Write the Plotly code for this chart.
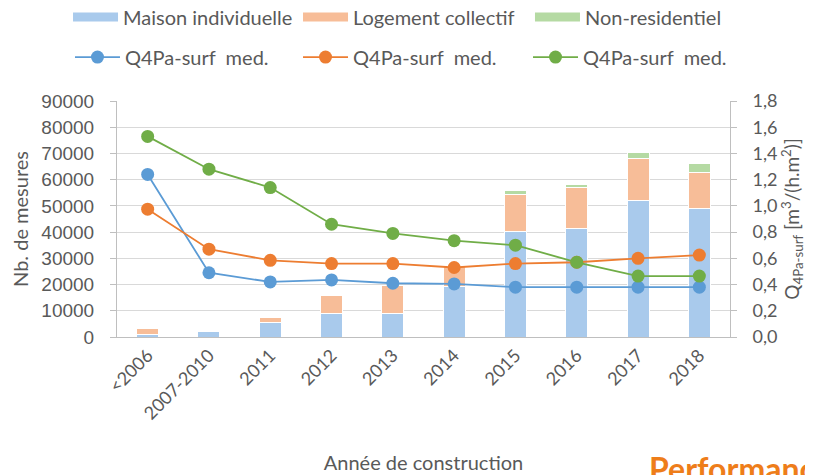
import plotly.graph_objects as go

categories = ["<2006", "2007-2010", "2011", "2012", "2013", "2014", "2015", "2016", "2017", "2018"]

maison = [800, 2200, 5600, 9000, 9000, 19200, 40200, 41400, 51900, 49000]
collectif = [2300, 200, 1800, 6700, 10800, 7800, 14000, 15600, 16000, 13700]
nonres = [0, 0, 0, 0, 0, 0, 1500, 1200, 2600, 3300]

q_maison = [1.24, 0.49, 0.42, 0.435, 0.41, 0.405, 0.38, 0.38, 0.38, 0.38]
q_collectif = [0.975, 0.67, 0.585, 0.56, 0.56, 0.53, 0.56, 0.57, 0.60, 0.625]
q_nonres = [1.53, 1.28, 1.14, 0.86, 0.79, 0.735, 0.70, 0.57, 0.465, 0.465]

bar_names = ["Maison individuelle", "Logement collectif", "Non-residentiel"]
line_name = "Q4Pa-surf\u00a0 med."

bar_colors = ["#A9CAEC", "#F7BD98", "#B5DAA3"]
line_colors = ["#5B9BD5", "#ED7D31", "#70AD47"]

FONT = "Lato, Liberation Sans, sans-serif"
TICKFONT = "Liberation Sans, Arial, sans-serif"
GREY = "#595959"

bar_legends = ["legend", "legend2", "legend3"]
line_legends = ["legend4", "legend5", "legend6"]
bar_legend_x = [-0.0799, 0.2953, 0.6737]
line_legend_x = [-0.0767, 0.2953, 0.6705]

fig = go.Figure()

for vals, name, col in zip([maison, collectif, nonres], bar_names, bar_colors):
    fig.add_trace(go.Bar(
        x=categories, y=vals, name=name, marker=dict(color=col, line=dict(color="white", width=1)),
        width=0.36, showlegend=False, yaxis="y", hoverinfo="x+y"))

for name, col, lg in zip(bar_names, bar_colors, bar_legends):
    # legend entry (wide flat swatch like the original)
    fig.add_trace(go.Scatter(
        x=[None], y=[None], mode="lines", name=name,
        line=dict(color=col, width=9), legend=lg, showlegend=True))

for vals, col, lg in zip([q_maison, q_collectif, q_nonres], line_colors, line_legends):
    fig.add_trace(go.Scatter(
        x=categories, y=vals, name=line_name, mode="lines+markers",
        line=dict(color=col, width=1.8), marker=dict(color=col, size=13),
        yaxis="y2", legend=lg))

legend_style = dict(orientation="h", xanchor="left", yanchor="middle",
                    font=dict(size=20, color=GREY), itemwidth=45,
                    bgcolor="rgba(0,0,0,0)")
legends = {}
for lg, x in zip(bar_legends, bar_legend_x):
    legends[lg] = dict(legend_style, x=x, y=1.356)
for lg, x in zip(line_legends, line_legend_x):
    legends[lg] = dict(legend_style, x=x, y=1.186)

fig.update_layout(
    width=805, height=467,
    margin=dict(l=109, r=83, t=93, b=138, autoexpand=False),
    paper_bgcolor="white", plot_bgcolor="white",
    barmode="stack",
    separators=", ",
    font=dict(family=FONT, color=GREY, size=18),
    xaxis=dict(
        type="category", range=[-0.5, 9.5], showline=True, linecolor="#BFBFBF", linewidth=1,
        ticks="", tickangle=-45, tickfont=dict(size=18, color=GREY),
        title=dict(text="Année de construction", font=dict(size=20, color=GREY), standoff=33),
        showgrid=False, automargin=False),
    yaxis=dict(
        range=[0, 90000], dtick=10000, tickformat="d", showgrid=True, gridcolor="#D9D9D9", gridwidth=1,
        showline=True, linecolor="#BFBFBF", ticks="outside", ticklen=6, tickcolor="#BFBFBF",
        zeroline=False, tickfont=dict(size=19, color=GREY, family=TICKFONT), ticklabelstandoff=12,
        automargin=False,
        title=dict(text="Nb. de mesures", font=dict(size=20, color=GREY), standoff=8)),
    yaxis2=dict(
        range=[0, 1.8], dtick=0.2, tickformat=".1f", overlaying="y", side="right",
        showgrid=False, showline=True, linecolor="#BFBFBF", ticks="outside", ticklen=6,
        tickcolor="#BFBFBF", zeroline=False, tickfont=dict(size=18, color=GREY), ticklabelstandoff=12,
        automargin=False,
        title=dict(text="Q<sub>4Pa-surf</sub> [m<sup>3</sup>/(h.m<sup>2</sup>)]",
                   font=dict(size=19, color=GREY), standoff=8)),
    annotations=[dict(
        text="<b>Performance</b>", xref="paper", yref="paper", x=(647 - 117) / 613,
        y=-(468 - 337) / 236, xanchor="left", yanchor="middle", showarrow=False,
        font=dict(size=32, color="#EE7D1A", family=FONT))],
    **legends,
)

fig.write_html("out.html")
